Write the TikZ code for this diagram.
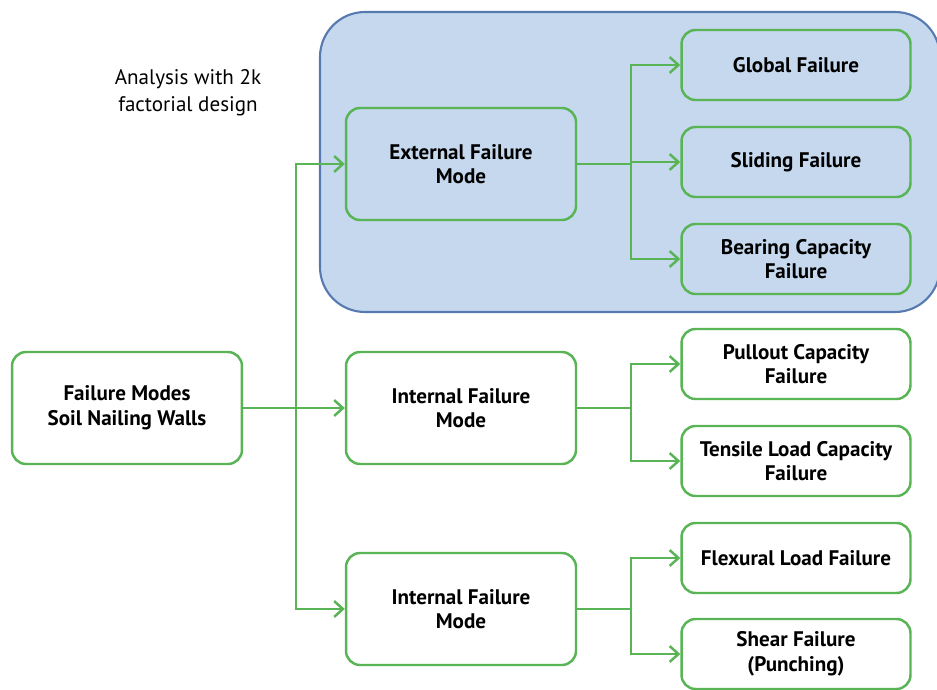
\documentclass[tikz,border=0pt]{standalone}
\usepackage{fontspec}
\setmainfont{PT Sans}
\usetikzlibrary{arrows.meta}
\usepackage{xcolor}
\definecolor{flowgreen}{RGB}{88,180,84}
\definecolor{zonefill}{RGB}{197,216,238}
\definecolor{zoneline}{RGB}{86,122,176}

\tikzset{
    modebox/.style={draw=flowgreen, line width=1.4pt, rounded corners=8pt, fill=white,
        minimum width=4.6cm, minimum height=2.24cm, align=center,
        font=\fontsize{12}{14}\selectfont\bfseries},
    failbox/.style={modebox, minimum width=4.58cm, minimum height=1.4cm},
    flow/.style={draw=flowgreen, line width=1.4pt, -{Straight Barb[length=5pt, width=9pt]}},
    link/.style={draw=flowgreen, line width=1.4pt}
}

\begin{document}
\begin{tikzpicture}[x=0.02cm, y=-0.02cm]
        \useasboundingbox (0,0) rectangle (937,690);
        % external zone
        \draw [zoneline, fill=zonefill, line width=1.2pt, rounded corners=0.9cm] (320,12) rectangle (940,312);
        \node [align=center, font=\fontsize{12}{15.3}\selectfont] (note) at (188,93) {Analysis with 2k\\factorial design};

        \node [modebox] (root) at (127,408) {Failure Modes\\Soil Nailing Walls};
        \node [modebox, fill=zonefill] (ext) at (461,164) {External Failure\\Mode};
        \node [modebox] (int1) at (461,408) {Internal Failure\\Mode};
        \node [modebox] (int2) at (461,609) {Internal Failure\\Mode};

        \node [failbox, fill=zonefill] (glob) at (796,65) {Global Failure};
        \node [failbox, fill=zonefill] (slid) at (796,162) {Sliding Failure};
        \node [failbox, fill=zonefill] (bear) at (796,259) {Bearing Capacity\\Failure};
        \node [failbox] (pull) at (796,364) {Pullout Capacity\\Failure};
        \node [failbox] (tens) at (796,461) {Tensile Load Capacity\\Failure};
        \node [failbox] (flex) at (796,558) {Flexural Load Failure};
        \node [failbox] (shear) at (796,654) {Shear Failure\\(Punching)};

        \coordinate (trunk) at (296,408);
        \coordinate (extsplit) at (631,164);
        \coordinate (int1split) at (631,408);
        \coordinate (int2split) at (631,609);

        \draw [flow] (root.east) -- (int1.west);
        \draw [flow] (trunk) |- (ext.west);
        \draw [flow] (trunk) |- (int2.west);

        \draw [link] (ext.east) -- (extsplit);
        \draw [flow] (extsplit) |- (glob.west);
        \draw [flow] (extsplit) |- (slid.west);
        \draw [flow] (extsplit) |- (bear.west);

        \draw [link] (int1.east) -- (int1split);
        \draw [flow] (int1split) |- (pull.west);
        \draw [flow] (int1split) |- (tens.west);

        \draw [link] (int2.east) -- (int2split);
        \draw [flow] (int2split) |- (flex.west);
        \draw [flow] (int2split) |- (shear.west);
    \end{tikzpicture}
\end{document}
